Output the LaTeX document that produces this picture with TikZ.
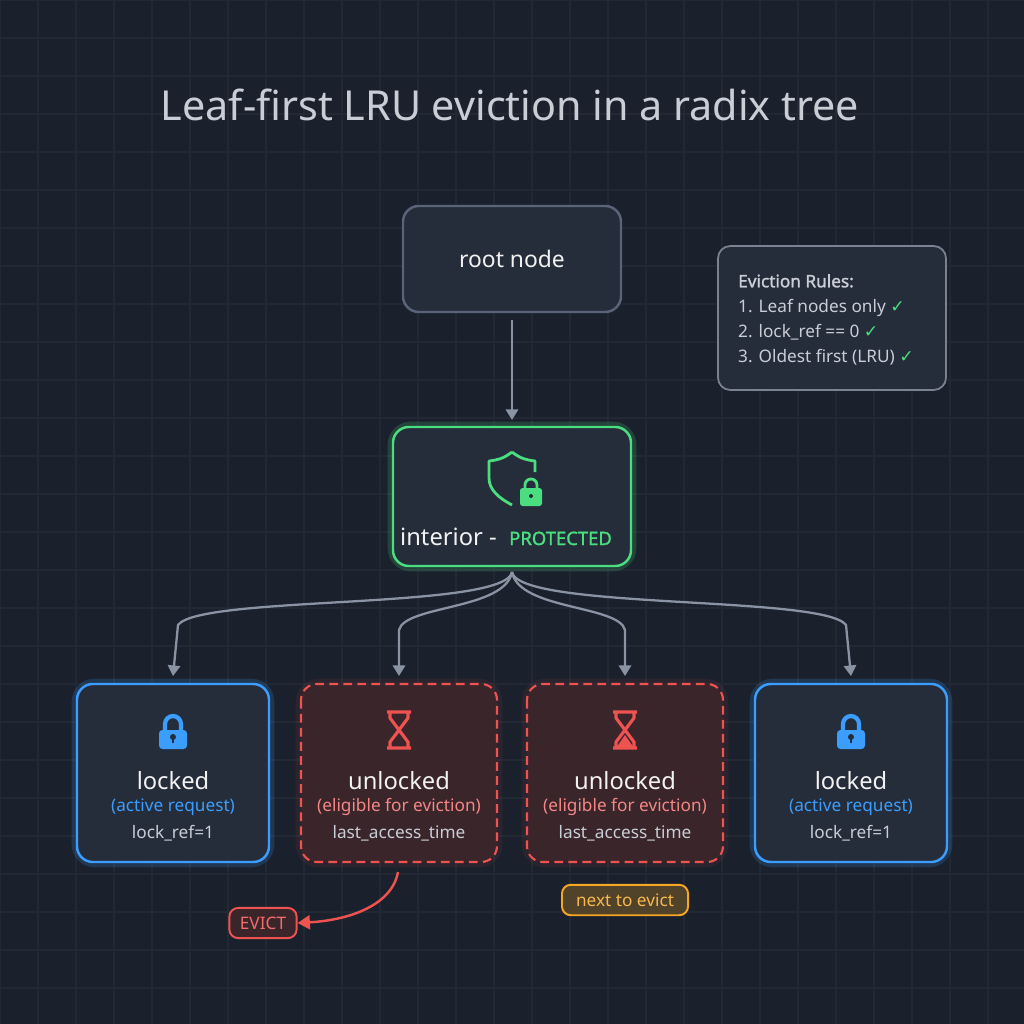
\documentclass[tikz,border=0pt]{standalone}
\usepackage{fontspec}
\setmainfont{Noto Sans}
\newfontfamily\symf{DejaVu Sans}
\newfontfamily\boldf{Noto Sans}[FakeBold=1.5]
\usetikzlibrary{arrows.meta}
\begin{document}
\begin{tikzpicture}[x=0.02cm,y=-0.02cm,
  box/.style={draw, rounded corners=9pt, line width=1.4pt},
  conn/.style={draw=conngray, line width=1.3pt, -{Triangle[length=6pt,width=7pt]}},
  glowB/.style={draw=#1, rounded corners=10pt, line width=6pt, opacity=0.18},
  txt/.style={text=white!90!gray, font=\fontsize{13.5}{15}\selectfont},
  sub/.style={font=\fontsize{9.8}{11}\selectfont},
]
\definecolor{bg}{HTML}{1B212C}
\definecolor{gridc}{HTML}{222935}
\definecolor{boxf}{HTML}{262D3A}
\definecolor{boxs}{HTML}{5A6478}
\definecolor{conngray}{HTML}{8A93A3}
\definecolor{grn}{HTML}{4ADE80}
\definecolor{blu}{HTML}{3B9EFF}
\definecolor{rd}{HTML}{EF5350}
\definecolor{redf}{HTML}{3A252B}
\definecolor{org}{HTML}{F5A623}
\definecolor{txtg}{HTML}{C9CED6}
\useasboundingbox (0,0) rectangle (1024,1024);
\fill[bg] (0,0) rectangle (1024,1024);
\foreach \i in {0,38,...,1024} {\draw[gridc, line width=0.6pt] (\i,0)--(\i,1024); \draw[gridc, line width=0.6pt] (0,\i)--(1024,\i);}
% title
\node[text=txtg, font=\fontsize{23.5}{26}\selectfont] (title) at (510,105) {Leaf-first LRU eviction in a radix tree};
% root
\path[box, draw=boxs, fill=boxf] (403,206) rectangle (621,312);
\node[txt, font=\fontsize{13}{15}\selectfont] (root) at (512,259) {root node};
\coordinate (rootb) at (512,320);
% rules
\path[box, draw=boxs!80, fill=boxf, rounded corners=7pt, line width=1pt] (718,246) rectangle (946,390);
\node[anchor=north west, text=txtg, align=left, font=\fontsize{9.8}{14.2}\selectfont] (rules) at (732,268)
{{\boldf Eviction Rules:}\\1. Leaf nodes only {\symf\color{grn}✓}\\2. lock\_ref == 0 {\symf\color{grn}✓}\\3. Oldest first (LRU) {\symf\color{grn}✓}};
% interior
\path[glowB=grn] (393,427) rectangle (631,566);
\path[box, draw=grn, fill=boxf] (393,427) rectangle (631,566);
\coordinate (intt) at (512,420);
\coordinate (intb) at (512,572);
\draw[grn, line width=1.6pt, line join=round] (512,452) .. controls (521,459) and (527,460) .. (535,461) -- (535,472)
  (512,452) .. controls (503,459) and (497,460) .. (489,461) -- (489,478) .. controls (489,490) and (499,498) .. (512,505);
\draw[grn, line width=1.6pt] (525,490) -- (525,485) arc (180:360:6) -- (537,490);
\fill[grn, rounded corners=1.5pt] (520,488) rectangle (542,506);
\fill[boxf] (531,496) circle (2);
\node[txt, anchor=base east] (intl) at (503,545) {interior -};
\node[text=grn, anchor=base west, font=\fontsize{10.5}{12}\selectfont\boldf] (intp) at (503,545) {PROTECTED};
\draw[conn] (rootb) -- (intt);
% leaves
\foreach \x/\n in {77/L1,755/L2}{
  \path[glowB=blu] (\x,684) rectangle ++(192,178);
  \path[box, draw=blu, fill=boxf] (\x,684) rectangle ++(192,178);
  \coordinate (\n) at (\x+96,676);
  \begin{scope}[shift={(\x+96,732)}]
    \draw[blu, line width=2.4pt] (-8,0) -- (-8,-8) arc (180:360:8) -- (8,0);
    \fill[blu, rounded corners=2pt] (-14,-2) rectangle (14,17);
    \fill[boxf] (0,5) circle (3); \fill[boxf] (-1.2,5) rectangle (1.2,11);
  \end{scope}
  \node[txt] at (\x+96,781) {locked};
  \node[sub, text=blu] at (\x+96,807) {(active request)};
  \node[sub, text=txtg] at (\x+96,833) {lock\_ref=1};
}
\foreach \x/\n in {301/U1,527/U2}{
  \path[glowB=rd, opacity=0.08] (\x,684) rectangle ++(196,178);
  \path[box, draw=rd, fill=redf, dashed, dash pattern=on 5pt off 3pt, line width=1.2pt] (\x,684) rectangle ++(196,178);
  \coordinate (\n) at (\x+98,676);
  \begin{scope}[shift={(\x+98,730)}]
    \draw[rd, line width=1.8pt, line join=round] (-12,-18) -- (12,-18) (-12,18) -- (12,18)
      (-9,-18) -- (-9,-12) -- (9,12) -- (9,18) (9,-18) -- (9,-12) -- (-9,12) -- (-9,18);
  \end{scope}
  \node[txt] at (\x+98,781) {unlocked};
  \node[sub, text=rd!70!white] at (\x+98,807) {(eligible for eviction)};
  \node[sub, text=txtg] at (\x+98,833) {last\_access\_time};
}
\fill[rd] (625,735) -- (616,748) -- (634,748) -- cycle;
% connectors from interior
\draw[conn] (intb) .. controls (505,610) and (200,595) .. (178,625) -- (L1);
\draw[conn] (intb) .. controls (505,610) and (405,605) .. (399,630) -- (U1);
\draw[conn] (intb) .. controls (519,610) and (619,605) .. (625,630) -- (U2);
\draw[conn] (intb) .. controls (519,610) and (824,595) .. (846,625) -- (L2);
% evict
\node[draw=rd, fill=redf, rounded corners=5pt, line width=1.1pt, text=rd!85!white, font=\fontsize{9.8}{11}\selectfont, inner xsep=6pt, inner ysep=5pt] (evict) at (263,923) {EVICT};
\coordinate (evs) at (398,872);
\draw[rd, line width=1.4pt, -{Triangle[length=7pt,width=8pt]}] (evs) .. controls (392,905) and (350,920) .. (evict.east);
\node[draw=org, fill=org!25!bg, rounded corners=5pt, line width=1.1pt, text=org!80!white, font=\fontsize{9.8}{11}\selectfont, inner xsep=8pt, inner ysep=5pt] (next) at (625,900) {next to evict};
\end{tikzpicture}
\end{document}
